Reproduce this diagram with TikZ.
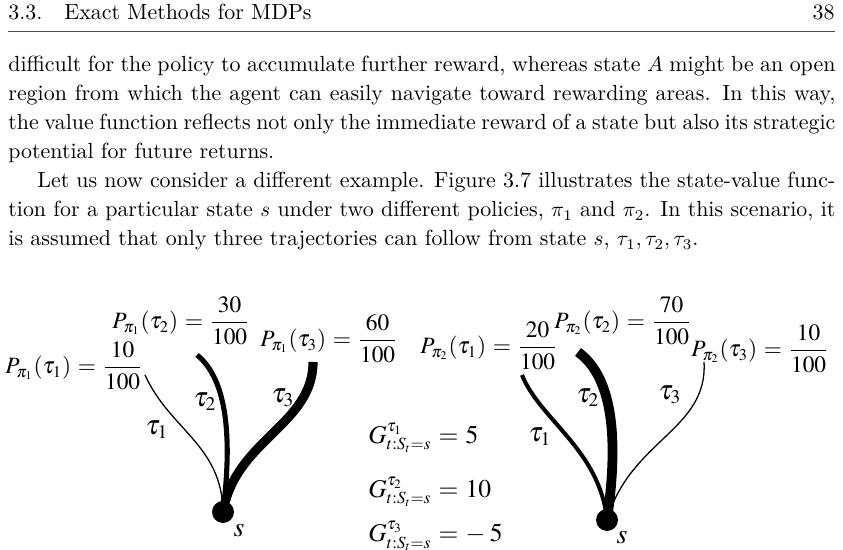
\documentclass[tikz,border=0pt]{standalone}
\usepackage{amsmath}
\usepackage{amssymb}
\usepackage{xcolor}
\usepackage{tikz}
\usetikzlibrary{positioning}
\DeclareMathVersion{times}
\SetSymbolFont{operators}{times}{OT1}{ztmcm}{m}{n}
\SetSymbolFont{letters}{times}{OML}{ztmcm}{m}{it}
\SetSymbolFont{symbols}{times}{OMS}{ztmcm}{m}{n}
\SetSymbolFont{largesymbols}{times}{OMX}{ztmcm}{m}{n}

\begin{document}
\begin{tikzpicture}[x=0.47pt, y=-0.47pt,
    bodytext/.style={inner sep=0pt, font=\fontsize{10.3}{13.63}\selectfont},
    prob/.style={inner sep=0pt, font=\fontsize{11}{13}\selectfont\mathversion{times}},
    ret/.style={inner sep=0pt, anchor=west, font=\fontsize{12}{14}\selectfont\mathversion{times}},
    traj/.style={font=\fontsize{13}{15}\selectfont\mathversion{times}, inner sep=0pt},
    state/.style={circle, fill=black, inner sep=0pt, minimum size=10.3pt}]
        \useasboundingbox (0,0) rectangle (843,550);

        % Running head
        \node[bodytext, anchor=base west] (head) at (8,20) {3.3.\quad Exact Methods for MDPs};
        \node[bodytext, anchor=base east] (page) at (835,20) {38};
        \draw[line width=0.4pt, black!70] (8,31) -- (835,31);

        % Text above the figure
        \node[bodytext, anchor=base west, text width=388.7pt, align=justify] (para1) at (8,72)
          {difficult for the policy to accumulate further reward, whereas state $A$ might be an open\linebreak
           region from which the agent can easily navigate toward rewarding areas. In this way,\linebreak
           the value function reflects not only the immediate reward of a state but also its strategic\linebreak
           potential for future returns.};
        \node[bodytext, anchor=base west, text width=388.7pt, align=justify] (para2) at (8,188)
          {\hspace*{13.6pt}Let us now consider a different example. Figure 3.7 illustrates the state-value func-\linebreak
           tion for a particular state $s$ under two different policies, $\pi_1$ and $\pi_2$. In this scenario, it\linebreak
           is assumed that only three trajectories can follow from state $s$, $\tau_1, \tau_2, \tau_3$.};

        % Policy pi_1
        \node[state] (sA) at (223,512) {};
        \node[traj] (sAlab) at (239,531) {$s$};
        \coordinate (a1) at (145,375);
        \coordinate (a2) at (197,355);
        \coordinate (a3) at (313,362);
        \draw[line width=0.6pt] (a1) .. controls (170,430) and (222,445) .. (sA.center);
        \draw[line width=2.4pt] (a2) .. controls (228,380) and (232,440) .. (sA.center);
        \draw[line width=4.3pt] (a3) .. controls (313,425) and (235,440) .. (sA.center);
        \node[traj] (ta1) at (157,430) {$\tau_1$};
        \node[traj] (ta2) at (205,402) {$\tau_2$};
        \node[traj] (ta3) at (283,398) {$\tau_3$};

        % Probabilities under pi_1
        \node[prob] (pa1) at (74,366) {$P_{\pi_1}(\tau_1)=\dfrac{10}{100}$};
        \node[prob] (pa2) at (181,321) {$P_{\pi_1}(\tau_2)=\dfrac{30}{100}$};
        \node[prob] (pa3) at (329,339) {$P_{\pi_1}(\tau_3)=\dfrac{60}{100}$};

        % Returns
        \node[ret] (g1) at (368,438) {$G^{\tau_1}_{t:S_t=s}=5$};
        \node[ret] (g2) at (368,492) {$G^{\tau_2}_{t:S_t=s}=10$};
        \node[ret] (g3) at (368,536) {$G^{\tau_3}_{t:S_t=s}=-\,5$};

        % Policy pi_2
        \node[state] (sB) at (607,520) {};
        \node[traj] (sBlab) at (622,538) {$s$};
        \coordinate (b1) at (522,375);
        \coordinate (b2) at (578,352);
        \coordinate (b3) at (704,362);
        \draw[line width=1.9pt] (b1) .. controls (540,420) and (600,450) .. (sB.center);
        \draw[line width=4.6pt] (b2) .. controls (610,375) and (620,430) .. (sB.center);
        \draw[line width=0.6pt] (b3) .. controls (708,430) and (630,440) .. (sB.center);
        \node[traj] (tb1) at (540,437) {$\tau_1$};
        \node[traj] (tb2) at (588,398) {$\tau_2$};
        \node[traj] (tb3) at (670,395) {$\tau_3$};

        % Probabilities under pi_2
        \node[prob] (pb1) at (489,346) {$P_{\pi_2}(\tau_1)=\dfrac{20}{100}$};
        \node[prob] (pb2) at (623,321) {$P_{\pi_2}(\tau_2)=\dfrac{70}{100}$};
        \node[prob] (pb3) at (760,349) {$P_{\pi_2}(\tau_3)=\dfrac{10}{100}$};
      \end{tikzpicture}
\end{document}
